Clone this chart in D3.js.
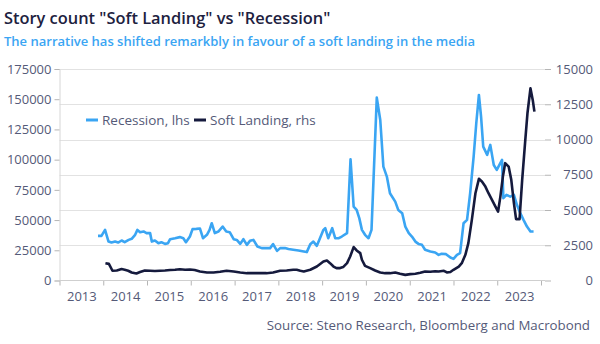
<!DOCTYPE html>
<html>
<head>
<meta charset="utf-8">
<script src="https://cdn.jsdelivr.net/npm/d3@7"></script>
<style>
    body { margin: 0; background: #fff; }
    svg { font-family: "Open Sans", sans-serif; }
</style>
</head>
<body>
<svg id="chart" width="600" height="344"></svg>
<script>
// values (dates as decimal years)
var yearLabels = [2013, 2014, 2015, 2016, 2017, 2018, 2019, 2020, 2021, 2022, 2023];
var leftTicks = [0, 25000, 50000, 75000, 100000, 125000, 150000, 175000];
var rightTicks = [0, 2500, 5000, 7500, 10000, 12500, 15000];

var recessionYears = [2013.88, 2013.96, 2014.04, 2014.12, 2014.19, 2014.27, 2014.34, 2014.42, 2014.49, 2014.58,
    2014.65, 2014.73, 2014.78, 2014.84, 2014.92, 2014.99, 2015.07, 2015.11, 2015.18, 2015.26,
    2015.33, 2015.41, 2015.48, 2015.53, 2015.64, 2015.75, 2015.83, 2015.89, 2015.98, 2016.04,
    2016.13, 2016.21, 2016.28, 2016.37, 2016.43, 2016.48, 2016.55, 2016.63, 2016.73, 2016.81,
    2016.89, 2016.98, 2017.05, 2017.13, 2017.20, 2017.28, 2017.35, 2017.43, 2017.52, 2017.62,
    2017.73, 2017.81, 2017.88, 2017.97, 2018.04, 2018.15, 2018.23, 2018.34, 2018.46, 2018.58,
    2018.65, 2018.73, 2018.80, 2018.88, 2018.95, 2019.03, 2019.07, 2019.14, 2019.23, 2019.30,
    2019.38, 2019.45, 2019.57, 2019.65, 2019.72, 2019.79, 2019.85, 2019.91, 2019.98, 2020.06,
    2020.13, 2020.25, 2020.33, 2020.40, 2020.48, 2020.55, 2020.67, 2020.74, 2020.83, 2020.90,
    2020.98, 2021.05, 2021.13, 2021.20, 2021.28, 2021.35, 2021.47, 2021.58, 2021.66, 2021.73,
    2021.83, 2021.93, 2022.00, 2022.08, 2022.15, 2022.23, 2022.31, 2022.38, 2022.46, 2022.52,
    2022.58, 2022.63, 2022.68, 2022.77, 2022.84, 2022.92, 2022.99, 2023.11, 2023.14, 2023.21,
    2023.30, 2023.38, 2023.45, 2023.53, 2023.60, 2023.68, 2023.76, 2023.83];
var recessionCounts = [36900, 36900, 41900, 32200, 31400, 32200, 31400, 33100, 31700, 33600,
    34500, 37800, 41900, 40000, 40600, 39200, 39200, 32200, 33100, 30900,
    31700, 30300, 30900, 34200, 35000, 35900, 35000, 31700, 36400, 42500,
    42700, 43000, 35000, 37800, 41900, 47400, 39200, 40500, 44600, 40500,
    40000, 34200, 33600, 30300, 34200, 29500, 32800, 33600, 28100, 26800,
    26800, 26800, 30100, 24500, 26800, 26800, 26000, 25400, 24800, 24000,
    23500, 30000, 32200, 28700, 35000, 41900, 43300, 35000, 43300, 35000,
    35000, 36400, 39200, 100300, 61200, 58400, 51600, 41900, 37800, 35000,
    41900, 151300, 132800, 94200, 86000, 72200, 65300, 58400, 55700, 44600,
    39200, 36400, 32200, 30300, 29500, 25400, 24000, 23200, 21200, 22100,
    21800, 19000, 17900, 21200, 22600, 47400, 50200, 72200, 102500, 130100,
    153500, 135600, 110800, 103900, 112200, 95600, 91500, 99800, 68100, 70800,
    69400, 70800, 62600, 55700, 50200, 44600, 40500, 40500];

var softYears = [2014.05, 2014.13, 2014.21, 2014.31, 2014.42, 2014.49, 2014.57, 2014.65, 2014.73, 2014.76,
    2014.84, 2014.95, 2015.07, 2015.18, 2015.30, 2015.41, 2015.53, 2015.64, 2015.75, 2015.87,
    2015.98, 2016.09, 2016.21, 2016.37, 2016.52, 2016.67, 2016.82, 2016.98, 2017.13, 2017.28,
    2017.43, 2017.58, 2017.73, 2017.88, 2018.04, 2018.19, 2018.34, 2018.42, 2018.50, 2018.58,
    2018.73, 2018.88, 2019.03, 2019.11, 2019.18, 2019.26, 2019.33, 2019.41, 2019.48, 2019.57,
    2019.64, 2019.72, 2019.79, 2019.87, 2019.91, 2019.98, 2020.10, 2020.21, 2020.33, 2020.44,
    2020.55, 2020.67, 2020.78, 2020.90, 2021.01, 2021.13, 2021.24, 2021.35, 2021.47, 2021.58,
    2021.66, 2021.78, 2021.85, 2021.93, 2022.00, 2022.12, 2022.19, 2022.27, 2022.34, 2022.42,
    2022.50, 2022.58, 2022.65, 2022.73, 2022.80, 2022.88, 2022.96, 2023.02, 2023.07, 2023.13,
    2023.18, 2023.26, 2023.32, 2023.38, 2023.43, 2023.51, 2023.57, 2023.64, 2023.69, 2023.76,
    2023.81, 2023.85];
var softCounts = [1230, 1180, 690, 710, 810, 760, 690, 570, 520, 500,
    600, 710, 690, 670, 690, 710, 740, 760, 800, 760,
    780, 740, 640, 570, 570, 620, 690, 640, 570, 520,
    520, 520, 520, 570, 690, 710, 760, 760, 690, 640,
    760, 990, 1350, 1420, 1230, 990, 880, 880, 950, 1230,
    1700, 2370, 2130, 1940, 1470, 1040, 880, 710, 570, 520,
    520, 570, 480, 400, 450, 480, 550, 640, 620, 660,
    640, 690, 570, 600, 760, 990, 1230, 1820, 2650, 4300,
    6190, 7210, 7020, 6660, 6190, 5720, 5240, 4890, 5950, 7370,
    8320, 8080, 7140, 5490, 4350, 4350, 7140, 9970, 11860, 13630,
    12810, 11980];

(function () {

    var blue = '#3aa5f3',
        navy = '#151a3d',
        textGrey = '#555a78';

    function toDate(y) {
        var yr = Math.floor(y);
        return new Date(yr, 0, 1 + Math.round((y - yr) * 365));
    }

    var recession = recessionYears.map(function (y, i) { return { date: toDate(y), value: recessionCounts[i] }; });
    var soft = softYears.map(function (y, i) { return { date: toDate(y), value: softCounts[i] }; });

    var svg = d3.select('#chart');

    var plotLeft = 59.5, plotRight = 545, plotTop = 69, plotBottom = 280.5;

    var x = d3.scaleTime()
        .domain([new Date(2013, 0, 1), new Date(2024, 0, 1)])
        .range([plotLeft, 541]);
    var yLeft = d3.scaleLinear().domain([0, 175000]).range([plotBottom, plotTop]);
    var yRight = d3.scaleLinear().domain([0, 15000]).range([plotBottom, plotTop]);

    // title + subtitle
    svg.append('text')
        .attr('x', 4).attr('y', 24)
        .attr('fill', '#1d2140')
        .attr('font-size', 16.4).attr('font-weight', 600)
        .text('Story count "Soft Landing" vs "Recession"');

    svg.append('text')
        .attr('x', 4).attr('y', 46)
        .attr('fill', blue)
        .attr('font-size', 13).attr('font-weight', 600)
        .text('The narrative has shifted remarkbly in favour of a soft landing in the media');

    // gridlines follow the right-hand axis
    svg.append('g')
        .selectAll('line')
        .data(rightTicks.filter(function (d) { return d > 0; }))
        .enter()
        .append('line')
        .attr('x1', plotLeft).attr('x2', plotRight)
        .attr('y1', function (d) { return Math.round(yRight(d)) + 0.5; })
        .attr('y2', function (d) { return Math.round(yRight(d)) + 0.5; })
        .attr('stroke', '#e2e2e2')
        .attr('stroke-width', 1);

    // left axis
    var leftAxis = svg.append('g')
        .attr('transform', 'translate(' + plotLeft + ',0)')
        .call(d3.axisLeft(yLeft).tickValues(leftTicks).tickSize(5).tickPadding(3).tickFormat(d3.format('d')));

    // right axis
    var rightAxis = svg.append('g')
        .attr('transform', 'translate(' + plotRight + ',0)')
        .call(d3.axisRight(yRight).tickValues(rightTicks).tickSize(6).tickFormat(d3.format('d')));
    rightAxis.selectAll('text').attr('x', 48).attr('text-anchor', 'end');
    rightAxis.select('.domain').remove();

    // bottom axis: ticks on year boundaries, labels mid-year
    var bottomAxis = svg.append('g')
        .attr('transform', 'translate(0,' + plotBottom + ')')
        .call(d3.axisBottom(x)
            .tickValues(yearLabels.concat([2024]).map(function (y) { return new Date(y, 0, 1); }))
            .tickSize(5).tickFormat(''));
    bottomAxis.select('.domain').remove();
    bottomAxis.append('line')
        .attr('x1', plotLeft).attr('x2', plotRight)
        .attr('stroke', '#cfcfcf');

    var labelAxis = svg.append('g')
        .attr('transform', 'translate(0,' + plotBottom + ')')
        .call(d3.axisBottom(x)
            .tickValues(yearLabels.map(function (y) { return new Date(y, 6, 2); }))
            .tickSize(0).tickPadding(11).tickFormat(d3.timeFormat('%Y')));
    labelAxis.select('.domain').remove();

    [leftAxis, rightAxis, bottomAxis, labelAxis].forEach(function (g) {
        g.selectAll('text').attr('fill', textGrey).attr('font-size', 13).attr('font-family', '"Open Sans", sans-serif');
        g.selectAll('.tick line').attr('stroke', '#b5b5b5');
    });
    leftAxis.select('.domain').attr('stroke', '#d6d6d6');

    // lines
    var recessionLine = d3.line()
        .x(function (d) { return x(d.date); })
        .y(function (d) { return yLeft(d.value); });
    var softLine = d3.line()
        .x(function (d) { return x(d.date); })
        .y(function (d) { return yRight(d.value); });

    svg.append('path')
        .datum(recession)
        .attr('d', recessionLine)
        .attr('fill', 'none')
        .attr('stroke', blue)
        .attr('stroke-width', 2.6)
        .attr('stroke-linejoin', 'round');

    svg.append('path')
        .datum(soft)
        .attr('d', softLine)
        .attr('fill', 'none')
        .attr('stroke', navy)
        .attr('stroke-width', 2.6)
        .attr('stroke-linejoin', 'round');

    // legend
    var legendItems = [
        { label: 'Recession, lhs', color: blue, x: 86 },
        { label: 'Soft Landing, rhs', color: navy, x: 194 }
    ];
    var legend = svg.append('g').selectAll('g')
        .data(legendItems)
        .enter()
        .append('g')
        .attr('transform', function (d) { return 'translate(' + d.x + ',120)'; });
    legend.append('line')
        .attr('x1', 0).attr('x2', 12)
        .attr('stroke', function (d) { return d.color; })
        .attr('stroke-width', 3);
    legend.append('text')
        .attr('x', 16).attr('y', 5)
        .attr('fill', textGrey)
        .attr('font-size', 13.5)
        .text(function (d) { return d.label; });

    // source
    svg.append('text')
        .attr('x', 590).attr('y', 330)
        .attr('text-anchor', 'end')
        .attr('fill', textGrey)
        .attr('font-size', 13.3)
        .text('Source: Steno Research, Bloomberg and Macrobond');

}());
</script>
</body>
</html>
